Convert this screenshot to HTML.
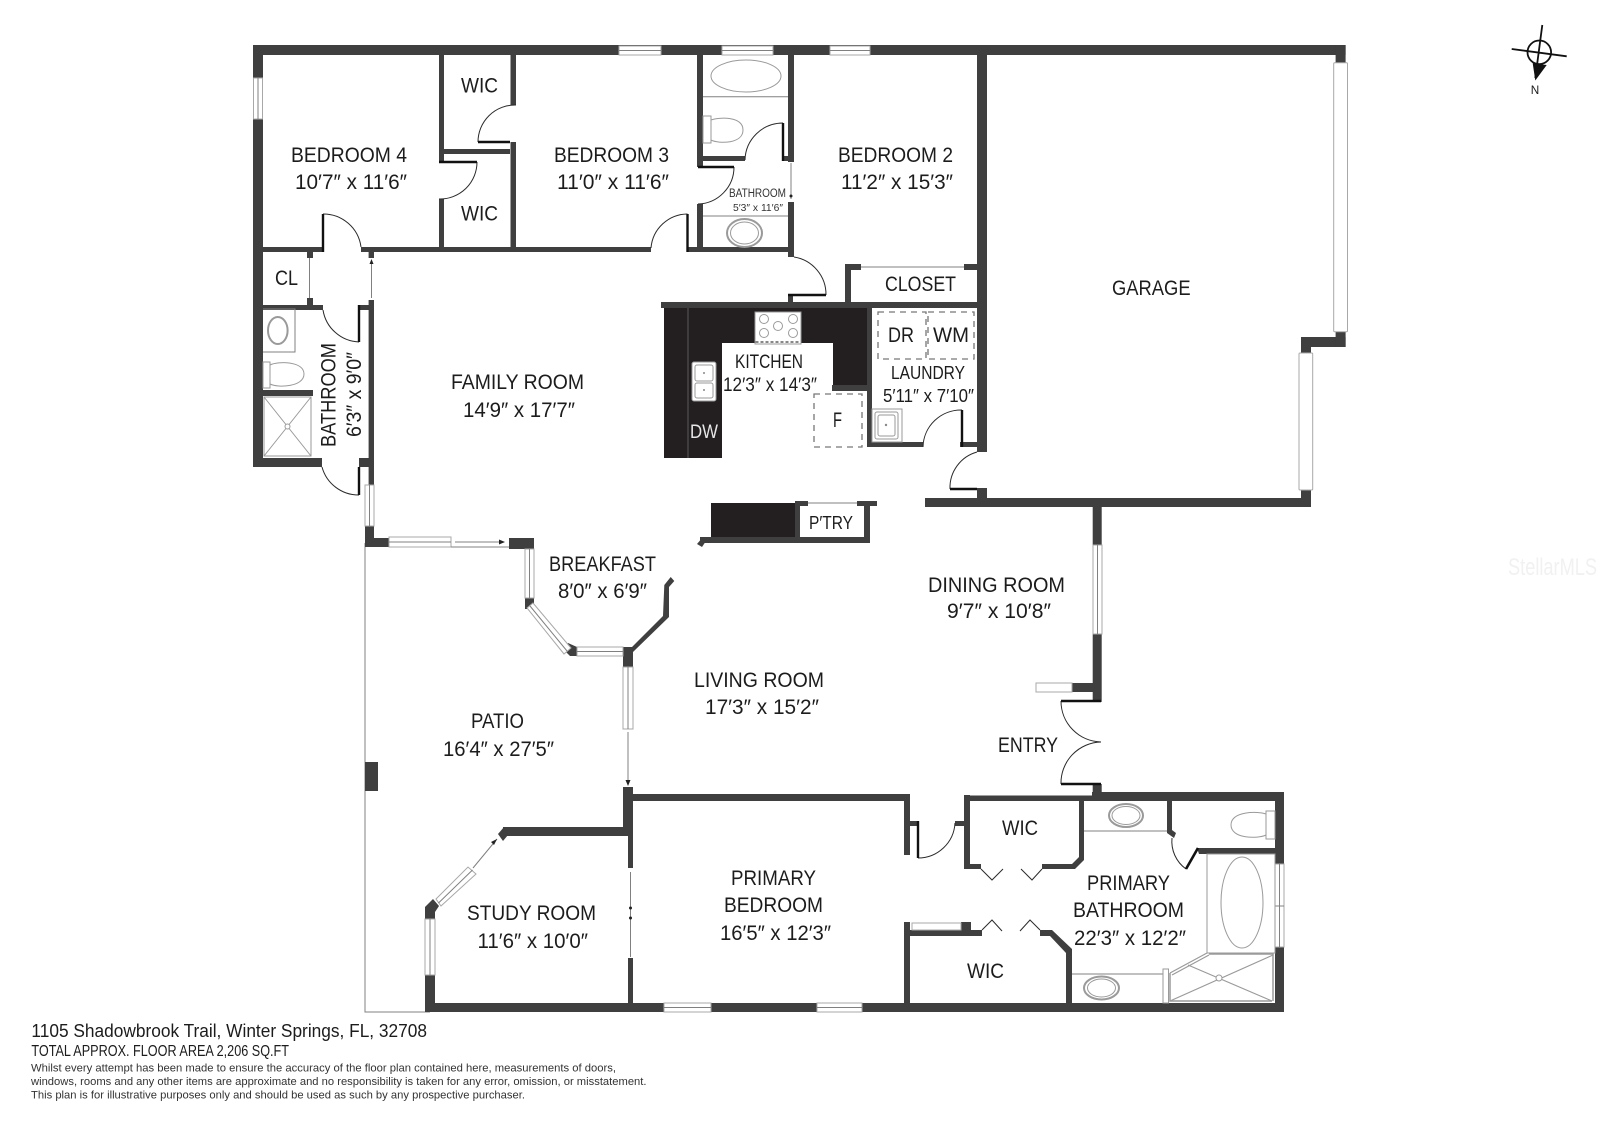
<!DOCTYPE html>
<html lang="en">
<head>
<meta charset="utf-8">
<title>Floor plan</title>
<style>
html,body{margin:0;padding:0;background:#fff;width:1600px;height:1130px;overflow:hidden}
svg{display:block;filter:blur(.35px)}
text{font-family:"Liberation Sans",sans-serif;fill:#1c1c1c;font-size:21.5px}
.wall{fill:#3f3f3f;stroke:none}
.dark{fill:#231f20}
.win{fill:#fff;stroke:#a8a8a8;stroke-width:1}
.thin{fill:none;stroke:#808080;stroke-width:1}
.arc{fill:none;stroke:#2a2a2a;stroke-width:1}
.leaf{fill:none;stroke:#111;stroke-width:2.4}
.fx{fill:#fff;stroke:#9a9a9a;stroke-width:1}
.dash{fill:none;stroke:#777;stroke-width:1.3;stroke-dasharray:6 5}
</style>
</head>
<body>
<svg width="1600" height="1130" viewBox="0 0 1600 1130" xmlns="http://www.w3.org/2000/svg">
<rect width="1600" height="1130" fill="#fff"/>

<!-- patio outline -->
<path class="thin" stroke-width="1.2" d="M365 543V1012H430"/>
<rect class="wall" x="365" y="762" width="13" height="29"/>

<!-- walls -->
<g class="wall">
<rect x="253" y="45" width="1092.6" height="10"/>
<rect x="1335.6" y="45" width="10" height="18"/>
<rect x="253" y="45" width="10" height="422"/>
<rect x="253" y="458" width="69" height="9"/>
<rect x="253" y="305" width="70" height="5"/>
<rect x="263" y="390" width="50" height="6"/>
<rect x="263" y="247" width="61" height="5"/>
<rect x="361" y="247" width="290" height="5"/>
<rect x="688" y="247" width="106" height="5"/>
<rect x="307" y="252" width="6" height="6"/>
<rect x="307" y="298" width="6" height="7"/>
<rect x="368.6" y="252" width="5.4" height="6"/>
<rect x="359" y="305" width="15" height="5"/>
<rect x="368.6" y="300" width="5.4" height="185"/>
<rect x="359" y="458" width="15" height="9"/>
<rect x="439" y="55" width="5" height="107"/>
<rect x="439" y="199" width="5" height="48"/>
<rect x="444" y="149" width="66" height="5"/>
<rect x="510.5" y="55" width="5.5" height="50"/>
<rect x="510.5" y="142" width="5.5" height="105"/>
<rect x="697" y="55" width="6" height="112"/>
<rect x="697" y="204" width="6" height="43"/>
<rect x="697" y="156" width="48" height="5"/>
<rect x="783" y="156" width="5" height="5"/>
<rect x="788" y="55" width="6" height="107"/>
<rect x="788" y="202" width="6" height="55"/>
<rect x="977" y="55" width="10" height="397"/>
<rect x="977" y="488" width="10" height="19"/>
<rect x="925" y="498" width="386" height="9"/>
<rect x="661" y="302" width="316" height="6"/>
<rect x="788" y="295" width="5" height="8"/>
<rect x="845" y="264" width="6" height="38"/>
<rect x="845" y="264" width="16" height="6"/>
<rect x="964" y="264" width="13" height="6"/>
<rect x="867" y="302" width="5" height="145"/>
<rect x="867" y="442" width="56" height="5"/>
<rect x="960" y="442" width="17" height="5"/>
<rect x="832" y="385" width="35" height="6"/>
<rect x="1301" y="337" width="44.6" height="10"/>
<rect x="1335.6" y="332" width="10" height="15"/>
<rect x="1301" y="337" width="10" height="16"/>
<rect x="1301" y="490" width="10" height="17"/>
<rect x="1092.7" y="507" width="9" height="38"/>
<rect x="1092.7" y="634" width="9" height="68"/>
<rect x="1072" y="683" width="21" height="9"/>
<rect x="1092.7" y="784" width="9" height="10"/>
<rect x="1092" y="792" width="192" height="9"/>
<rect x="964" y="795.5" width="130" height="5.5"/>
<rect x="365" y="526" width="9" height="21"/>
<rect x="365" y="538" width="24" height="9"/>
<rect x="509" y="538" width="25" height="11"/>
<rect x="525" y="598" width="9" height="11"/>
<polygon points="568,643 577,647 577,656 570,656 563,649"/>
<rect x="623" y="647" width="10" height="20"/>
<polygon points="632,647 663,616 664.3,585 670.7,577 674.3,581 669,587 669,617 633,652"/>
<rect x="795" y="501" width="5" height="42"/>
<rect x="795" y="501" width="13" height="5"/>
<rect x="857" y="501" width="20" height="5"/>
<rect x="864" y="501" width="6" height="42"/>
<rect x="700" y="537" width="170" height="6"/>
<polygon points="697,544 703,537 706,541 702,547"/>
<rect x="623" y="787" width="10" height="49"/>
<rect x="623" y="794" width="287" height="7"/>
<rect x="503" y="827" width="120" height="9"/>
<polygon points="498,834 504,827 508,835 503,841"/>
<rect x="628" y="836" width="5" height="32"/>
<rect x="628" y="958" width="5" height="45"/>
<rect x="425" y="1003" width="859" height="9"/>
<rect x="425" y="975" width="10" height="30"/>
<polygon points="425,907 433,899 439,906 435,912 435,919 425,919"/>
<rect x="904" y="795" width="6" height="60"/>
<rect x="910" y="821" width="8" height="5"/>
<rect x="955" y="821" width="9" height="5"/>
<rect x="964" y="795" width="6" height="74"/>
<rect x="964" y="864" width="17" height="5"/>
<polygon points="1042,864 1072,864 1079,857 1079,801 1084,801 1084,860 1075,869 1042,869"/>
<polygon points="1167,801 1172,801 1172,830 1176,833 1174,838 1167,833"/>
<polygon points="1197,848 1275,848 1275,854 1199,854"/>
<rect x="1275" y="801" width="9" height="63"/>
<rect x="1275" y="947" width="9" height="56"/>
<rect x="904" y="922" width="6" height="81"/>
<rect x="904" y="930" width="78" height="6"/>
<rect x="961" y="922" width="10" height="14"/>
<polygon points="1040,930 1052,930 1072,949 1072,1003 1066,1003 1066,953 1050,936 1040,936"/>
</g>

<!-- counters -->
<rect class="dark" x="664" y="308" width="58" height="150"/>
<rect class="dark" x="664" y="308" width="203" height="35"/>
<rect class="dark" x="833" y="308" width="34" height="77"/>
<line x1="688" y1="308" x2="688" y2="458" stroke="#6a6a6a" stroke-width=".8"/>
<rect class="dark" x="711" y="503" width="84" height="34"/>

<!-- windows -->
<g>
<g class="win">
<rect x="619" y="46" width="42" height="9"/><rect x="722" y="46" width="51" height="9"/><rect x="830" y="46" width="40" height="9"/>
<rect x="253.5" y="78" width="9" height="41"/>
<rect x="1333.7" y="62.7" width="13.8" height="269" rx="1"/>
<rect x="1299" y="353" width="13.7" height="137" rx="1"/>
<rect x="365" y="485" width="9" height="41"/>
<rect x="389" y="537" width="62" height="10"/>
<rect x="525" y="549" width="9" height="49"/>
<rect x="577" y="647" width="46" height="9"/>
<rect x="623" y="667" width="10" height="62"/>
<rect x="1093" y="545" width="9" height="89"/>
<rect x="1036" y="683" width="36" height="9"/>
<rect x="425" y="919" width="10" height="56"/>
<rect x="664" y="1003" width="47" height="9"/><rect x="817" y="1003" width="45" height="9"/>
<rect x="1275" y="864" width="9" height="83"/>
<rect x="912" y="923" width="49" height="7"/>
<polygon points="527,608 533,603 571,648 564,654"/>
<polygon points="436,899 468,867 476,874 441,906"/>
</g>
<g class="thin" stroke="#b0b0b0">
<path d="M619 50.5h42M722 50.5h51M830 50.5h40M258 78v41M369.5 485v41M389 542h62M529.500 549v49M577 651.500h46M628 667v62M1097.500 545v89M430 919v56M664 1007.500h47M817 1007.500h45M1279.500 864v83M1275 906h9M530 606l37 45M438.500 903l34-33"/>
</g>
</g>

<!-- thin lines, sliding doors -->
<g class="thin">
<path d="M309.500 258v40M371.500 262v36M861 267h103M791 163v36M808 503h49M455 542h48M451 547h58M628 732v50M630.500 872v85M473 868l24-29"/>
<path d="M703 96.700h85M703 216h85M263 309h32v43h-32M1084 831h83M1072 974h91M1207 953h68"/>
</g>
<g fill="#222">
<polygon points="505,542 499,539.500 499,544.500"/>
<polygon points="628,786 625.500,780 630.500,780"/>
<polygon points="371.500,259 369.500,264 373.500,264"/>
<circle cx="791" cy="196" r="1.500"/>
<circle cx="630.500" cy="908" r="1.500"/><circle cx="630.500" cy="918" r="1.500"/>
<polygon points="497,839 491,842 494,845"/>
</g>

<!-- door arcs -->
<g class="arc">
<path d="M516 105A37 37 0 0 0 478 142"/>
<path d="M477 162A37 37 0 0 1 439 199"/>
<path d="M323 214A38 38 0 0 1 361 247"/>
<path d="M687.500 214A37 37 0 0 0 651 248"/>
<path d="M734 167A37 37 0 0 1 698 204"/>
<path d="M783 123A38 38 0 0 0 745 160"/>
<path d="M794 257A38 38 0 0 1 826 295"/>
<path d="M962 410A38 38 0 0 0 923 447"/>
<path d="M977 452A37 37 0 0 0 950 489"/>
<path d="M323 310A38 38 0 0 0 359 342"/>
<path d="M322 467A38 38 0 0 0 359 495"/>
<path d="M1061 701A41 41 0 0 0 1101 742"/>
<path d="M1101 742A41 41 0 0 0 1061 784"/>
<path d="M918 858A37 37 0 0 0 955 823"/>
<path d="M1172 838A34 34 0 0 0 1186 869"/>
</g>
<g class="leaf">
<path d="M510 142H478M439 162H477M323 214V252M687.500 214V252M698 167H734M783 123V161M788 295H826M962 410V447M950 489H977M359 305V342M359 467V495M1061 701H1101M1061 784H1101M918 821V858"/>
<path d="M1186 869L1198 848" stroke-width="2.600"/>
</g>
<g class="arc" stroke="#555">
<path d="M981 869l11 11 11-11M1021 869l11 11 10-11M982 930l10-10 10 11M1020 931l10-11 10 10"/>
</g>

<!-- fixtures -->
<g class="fx">
<ellipse cx="746" cy="76" rx="35" ry="16"/>
<rect x="703" y="116" width="8" height="27"/>
<path d="M711 120c8-3 32-4 32 10s-24 14-32 10z"/>
<ellipse cx="744.500" cy="233" rx="17.500" ry="14" stroke-width="2"/>
<ellipse cx="744.500" cy="233" rx="14" ry="11"/>
<ellipse cx="277.800" cy="330.500" rx="9.800" ry="13.500" stroke-width="2"/>
<rect x="263" y="362" width="7" height="26"/>
<path d="M270 365c8-4 34-4 34 9s-26 14-34 10z"/>
<rect x="264" y="397" width="47" height="59"/>
<path d="M264 397l47 59M311 397l-47 59" fill="none"/>
<circle cx="287.500" cy="426.500" r="2.500"/>
<rect x="755" y="312" width="46" height="32"/>
<circle cx="764" cy="319" r="4.500"/><circle cx="764" cy="333" r="4.500"/><circle cx="793" cy="319" r="4.500"/><circle cx="793" cy="333" r="4.500"/><circle cx="778" cy="326" r="4.500"/>
<rect x="692" y="362" width="24" height="39" rx="2"/>
<rect x="695" y="365" width="18" height="16" rx="2"/><rect x="695" y="383" width="18" height="15" rx="2"/>
<rect x="872" y="409" width="30" height="33"/>
<rect x="875" y="412" width="23" height="27" rx="2"/><rect x="878" y="415" width="17" height="21" rx="2"/>
<ellipse cx="1126" cy="815.500" rx="17" ry="11.500" stroke-width="2"/>
<ellipse cx="1126" cy="815.500" rx="14" ry="9"/>
<rect x="1266" y="811" width="9" height="28"/>
<path d="M1266 814c-8-3-35-3-35 11s27 14 35 10z"/>
<rect x="1207" y="854" width="68" height="99"/>
<ellipse cx="1242" cy="902.500" rx="21" ry="45.500"/>
<ellipse cx="1101.500" cy="988" rx="17.500" ry="11.500" stroke-width="2"/>
<ellipse cx="1101.500" cy="988" rx="14" ry="9"/>
<rect x="1163" y="969" width="5.500" height="34"/>
<path d="M1170 973L1207 953M1172 975L1209 955" fill="none" stroke-width="1.200"/>
<path d="M1170 973V1001H1272M1209 954H1273V1001" fill="none" stroke-width="1.500"/>
<path d="M1170 1001L1273 955M1188 965L1272 1001" fill="none" stroke-width="1.200"/>
<circle cx="1219" cy="978" r="3"/>
</g>
<g fill="#888"><circle cx="704" cy="373" r="1"/><circle cx="704" cy="390" r="1"/><circle cx="886" cy="425" r="1.200"/></g>
<path d="M755.500 342h45" stroke="#888" stroke-width="2" stroke-dasharray="3 2" fill="none"/>

<!-- dashed appliances -->
<rect class="dash" x="814" y="394" width="48" height="53"/>
<rect class="dash" x="878" y="312" width="48" height="47"/>
<rect class="dash" x="928" y="312" width="46" height="47"/>

<!-- room labels -->
<g>
<text x="291" y="162" textLength="116" lengthAdjust="spacingAndGlyphs">BEDROOM 4</text>
<text x="295" y="189" textLength="112" lengthAdjust="spacingAndGlyphs">10′7″ x 11′6″</text>
<text x="461" y="92.700" textLength="37" lengthAdjust="spacingAndGlyphs">WIC</text>
<text x="461" y="220.700" textLength="37" lengthAdjust="spacingAndGlyphs">WIC</text>
<text x="554" y="162" textLength="115" lengthAdjust="spacingAndGlyphs">BEDROOM 3</text>
<text x="557" y="189" textLength="112" lengthAdjust="spacingAndGlyphs">11′0″ x 11′6″</text>
<text x="838" y="162" textLength="115" lengthAdjust="spacingAndGlyphs">BEDROOM 2</text>
<text x="841" y="189" textLength="112" lengthAdjust="spacingAndGlyphs">11′2″ x 15′3″</text>
<text x="275" y="285" textLength="23" lengthAdjust="spacingAndGlyphs">CL</text>
<text transform="translate(335.700,447) rotate(-90)" textLength="104" lengthAdjust="spacingAndGlyphs">BATHROOM</text>
<text transform="translate(361,437) rotate(-90)" textLength="85" lengthAdjust="spacingAndGlyphs">6′3″ x 9′0″</text>
<text x="451" y="389" textLength="133" lengthAdjust="spacingAndGlyphs">FAMILY ROOM</text>
<text x="463" y="417" textLength="112" lengthAdjust="spacingAndGlyphs">14′9″ x 17′7″</text>
<text x="885" y="291" textLength="71" lengthAdjust="spacingAndGlyphs">CLOSET</text>
<text x="888" y="342" textLength="26" lengthAdjust="spacingAndGlyphs">DR</text>
<text x="933" y="342" textLength="36" lengthAdjust="spacingAndGlyphs">WM</text>
<text x="833" y="427" textLength="9" lengthAdjust="spacingAndGlyphs">F</text>
<text x="1112" y="295" textLength="78.600" lengthAdjust="spacingAndGlyphs">GARAGE</text>
<text x="549" y="571" textLength="107" lengthAdjust="spacingAndGlyphs">BREAKFAST</text>
<text x="558" y="598" textLength="89" lengthAdjust="spacingAndGlyphs">8′0″ x 6′9″</text>
<text x="471" y="728" textLength="53" lengthAdjust="spacingAndGlyphs">PATIO</text>
<text x="443" y="756" textLength="111" lengthAdjust="spacingAndGlyphs">16′4″ x 27′5″</text>
<text x="694" y="687" textLength="130" lengthAdjust="spacingAndGlyphs">LIVING ROOM</text>
<text x="705" y="714" textLength="114" lengthAdjust="spacingAndGlyphs">17′3″ x 15′2″</text>
<text x="928" y="592" textLength="137" lengthAdjust="spacingAndGlyphs">DINING ROOM</text>
<text x="947" y="618" textLength="104" lengthAdjust="spacingAndGlyphs">9′7″ x 10′8″</text>
<text x="998" y="752" textLength="60" lengthAdjust="spacingAndGlyphs">ENTRY</text>
<text x="1002" y="835" textLength="36" lengthAdjust="spacingAndGlyphs">WIC</text>
<text x="967" y="978" textLength="37" lengthAdjust="spacingAndGlyphs">WIC</text>
<text x="1087" y="890" textLength="83" lengthAdjust="spacingAndGlyphs">PRIMARY</text>
<text x="1073" y="917" textLength="111" lengthAdjust="spacingAndGlyphs">BATHROOM</text>
<text x="1074" y="945" textLength="112" lengthAdjust="spacingAndGlyphs">22′3″ x 12′2″</text>
<text x="731" y="885" textLength="85" lengthAdjust="spacingAndGlyphs">PRIMARY</text>
<text x="724" y="912" textLength="99" lengthAdjust="spacingAndGlyphs">BEDROOM</text>
<text x="720" y="940" textLength="111" lengthAdjust="spacingAndGlyphs">16′5″ x 12′3″</text>
<text x="467" y="920" textLength="129" lengthAdjust="spacingAndGlyphs">STUDY ROOM</text>
<text x="477.500" y="948" textLength="110.500" lengthAdjust="spacingAndGlyphs">11′6″ x 10′0″</text>
</g>
<text x="729" y="197" style="font-size:11.500px;fill:#333" textLength="57" lengthAdjust="spacingAndGlyphs">BATHROOM</text>
<text x="733" y="211" style="font-size:10.500px;fill:#333" textLength="50" lengthAdjust="spacingAndGlyphs">5′3″ x 11′6″</text>
<text x="735" y="368" style="font-size:19px" textLength="68" lengthAdjust="spacingAndGlyphs">KITCHEN</text>
<text x="723" y="391" style="font-size:19px" textLength="94" lengthAdjust="spacingAndGlyphs">12′3″ x 14′3″</text>
<text x="690" y="438" style="font-size:19px;fill:#e6e6e6" textLength="28" lengthAdjust="spacingAndGlyphs">DW</text>
<text x="891" y="379" style="font-size:18.500px" textLength="74" lengthAdjust="spacingAndGlyphs">LAUNDRY</text>
<text x="883" y="402" style="font-size:18.500px" textLength="91" lengthAdjust="spacingAndGlyphs">5′11″ x 7′10″</text>
<text x="809" y="529" style="font-size:18.500px" textLength="44" lengthAdjust="spacingAndGlyphs">P′TRY</text>

<!-- compass -->
<g fill="none" stroke="#111" stroke-width="1.800">
<circle cx="1539.300" cy="52.300" r="11.800"/>
<path d="M1511.700 49L1566.700 56.300M1542.300 25L1535.300 78"/>
</g>
<polygon points="1532.700,63.300 1546.700,65 1535.300,80.500" fill="#111"/>
<text x="1530.700" y="94" style="font-size:12px" textLength="8.500" lengthAdjust="spacingAndGlyphs">N</text>

<!-- watermark -->
<text x="1508" y="575" style="font-size:24px;fill:#f1f1f1" textLength="89" lengthAdjust="spacingAndGlyphs">StellarMLS</text>

<!-- footer -->
<text x="31.400" y="1037" style="font-size:18px" textLength="395.600" lengthAdjust="spacingAndGlyphs">1105 Shadowbrook Trail, Winter Springs, FL, 32708</text>
<text x="31.400" y="1056" style="font-size:16px" textLength="257.600" lengthAdjust="spacingAndGlyphs">TOTAL APPROX. FLOOR AREA 2,206 SQ.FT</text>
<text x="31" y="1071.700" style="font-size:10.800px;fill:#333" textLength="585" lengthAdjust="spacingAndGlyphs">Whilst every attempt has been made to ensure the accuracy of the floor plan contained here, measurements of doors,</text>
<text x="31" y="1085" style="font-size:10.800px;fill:#333" textLength="615.500" lengthAdjust="spacingAndGlyphs">windows, rooms and any other items are approximate and no responsibility is taken for any error, omission, or misstatement.</text>
<text x="31" y="1098.700" style="font-size:10.800px;fill:#333" textLength="494" lengthAdjust="spacingAndGlyphs">This plan is for illustrative purposes only and should be used as such by any prospective purchaser.</text>
</svg>
</body>
</html>
